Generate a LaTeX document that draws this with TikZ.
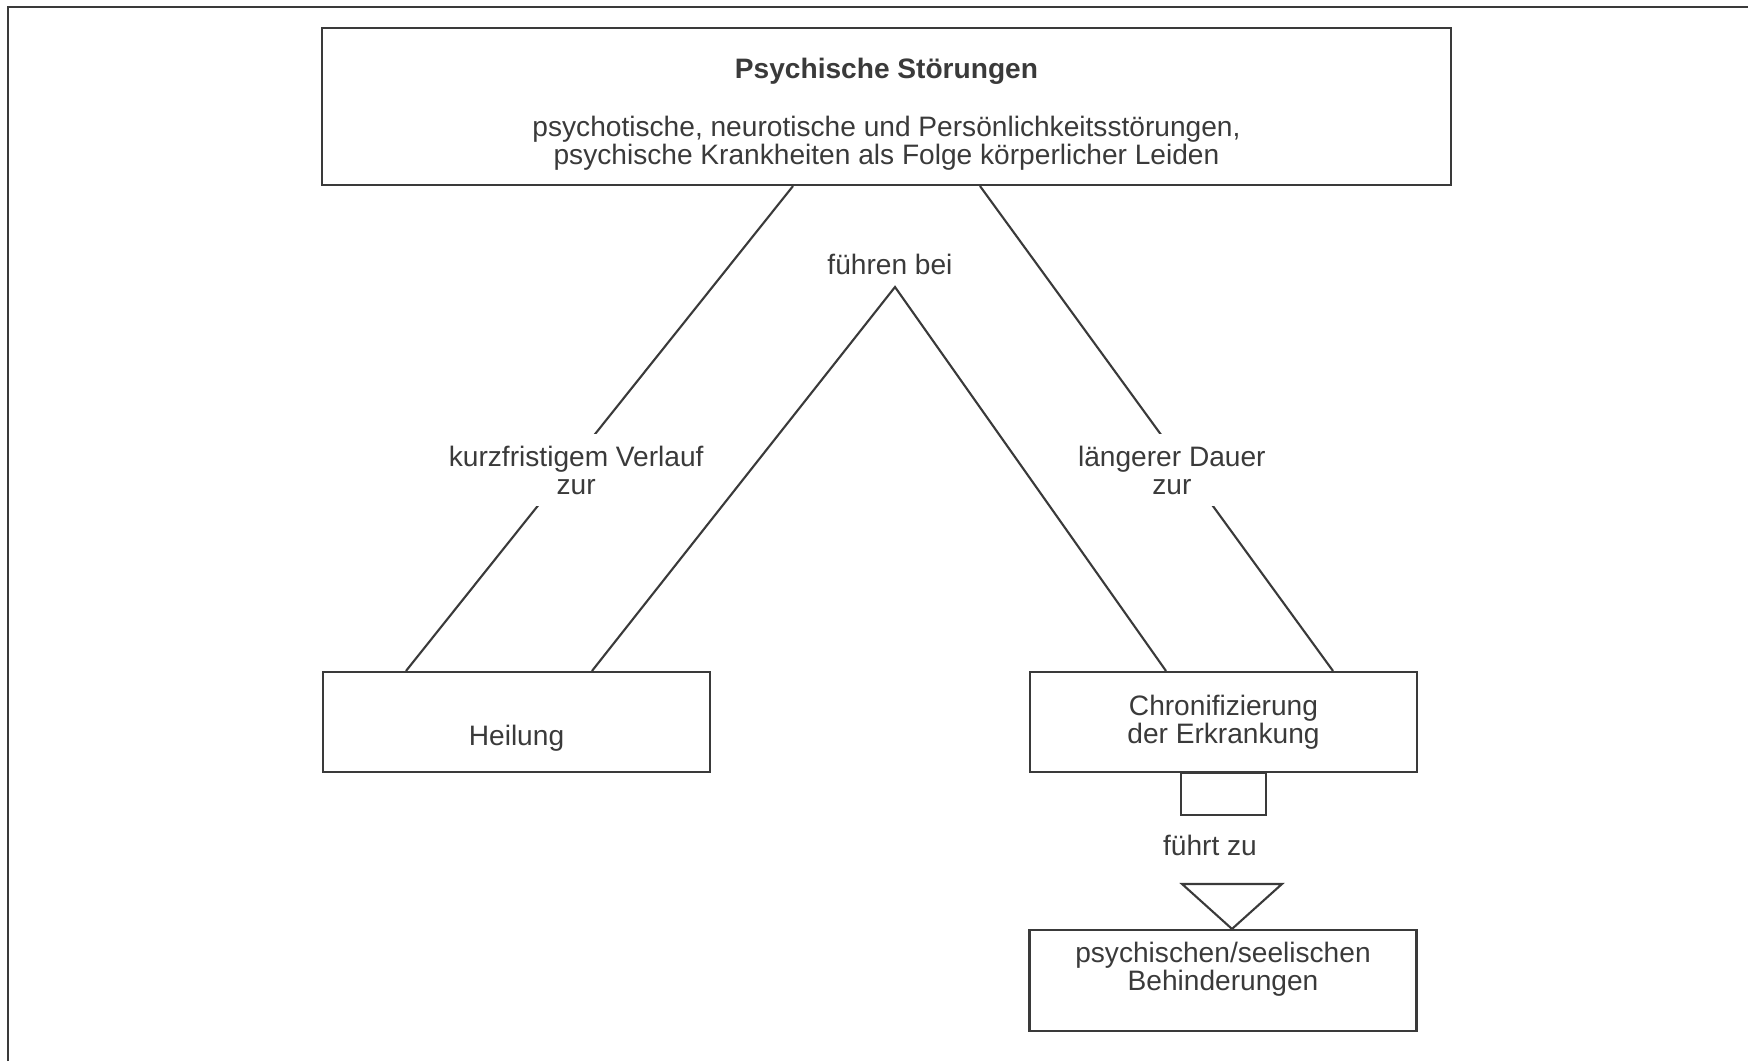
\documentclass[tikz,border=0pt]{standalone}
\usepackage{fontspec}
\setmainfont{Liberation Sans}
\usepackage{tikz}
\usetikzlibrary{positioning}
\usepackage{xcolor}
\definecolor{ink}{HTML}{3A3A3A}

\tikzset{
  box/.style={draw=ink, line width=0.6pt, rectangle, align=center, text=ink,
    minimum width=3.87cm, minimum height=1cm, inner sep=0pt},
  lbl/.style={align=center, fill=white, text=ink, inner xsep=1.5pt, inner ysep=3.3pt},
  link/.style={draw=ink, line width=0.6pt}
}

\begin{document}
\begin{tikzpicture}[font=\fontsize{8pt}{8pt}\selectfont]
			\useasboundingbox (0,0) rectangle (17.48,10.61);
			% Rahmen
			\draw[ink, line width=0.7pt] (0.08,0) -- (0.08,10.54) -- (17.48,10.54);

			\node[box, minimum width=11.29cm, minimum height=1.57cm] (stoerungen) at (8.865,9.545)
				{\rule{0pt}{10.2pt}\textbf{Psychische Störungen}\\[8.5pt]
				psychotische, neurotische und Persönlichkeitsstörungen,\\
				psychische Krankheiten als Folge körperlicher Leiden};

			\node[box] (heilung) at (5.165,3.39) {\strut\\Heilung};
			\node[box] (chron) at (12.235,3.39) {Chronifizierung\\der Erkrankung};
			\node[box, minimum height=1.01cm] (behind) at (12.23,0.805)
				{psychischen/seelischen\\Behinderungen\\\mbox{}};

			\coordinate (spitze) at (8.95,7.74);
			\node[text=ink] (fuehren) at (8.90,7.97) {führen bei};

			% Verlaeufe
			\draw[link] ([xshift=-0.935cm]stoerungen.south) -- node[lbl, pos=0.586, xshift=0.1cm] (kurz) {kurzfristigem Verlauf\\zur} ([xshift=-1.105cm]heilung.north);
			\draw[link] ([xshift=0.935cm]stoerungen.south) -- node[lbl, pos=0.586, xshift=-0.15cm] (lang) {längerer Dauer\\zur} ([xshift=1.095cm]chron.north);
			\draw[link] ([xshift=0.755cm]heilung.north) -- (spitze) -- ([xshift=-0.575cm]chron.north);

			% Chronifizierung -> Behinderung
			\draw[link] ([xshift=-0.425cm]chron.south) rectangle ++(0.85,-0.42);
			\node[text=ink] (fuehrt) at (12.10,2.16) {führt zu};
			\draw[link] ([xshift=-0.41cm,yshift=0.45cm]behind.north) -- ([xshift=0.59cm,yshift=0.45cm]behind.north) -- ([xshift=0.09cm]behind.north) -- cycle;
\end{tikzpicture}
\end{document}
